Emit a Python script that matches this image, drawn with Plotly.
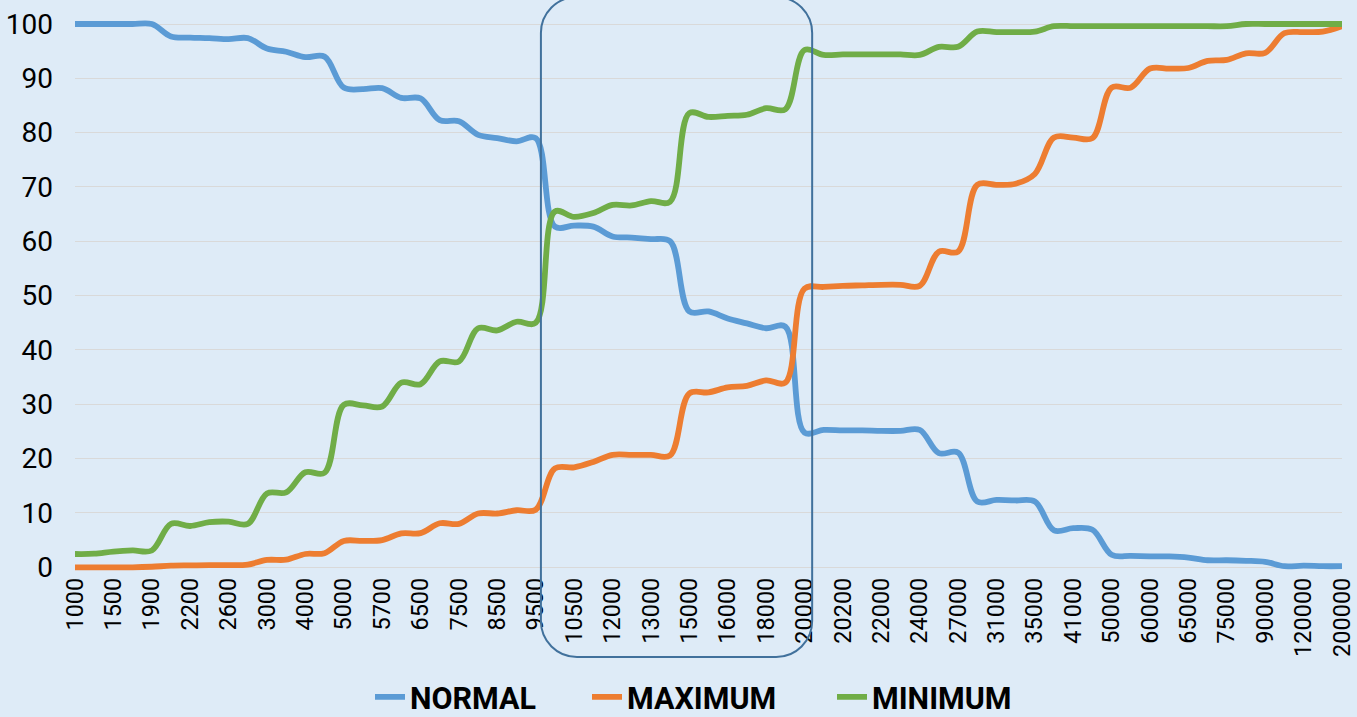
import plotly.graph_objects as go

# ---------------- data ----------------
tick_labels = ["1000", "1500", "1900", "2200", "2600", "3000", "4000", "5000", "5700",
               "6500", "7500", "8500", "9500", "10500", "12000", "13000", "15000",
               "16000", "18000", "20000", "20200", "22000", "24000", "27000", "31000",
               "35000", "41000", "50000", "60000", "65000", "75000", "90000", "120000",
               "200000"]

normal = [100, 100, 100, 100, 100, 97.7, 97.5, 97.4, 97.2, 97.4,
          95.5, 94.9, 93.9, 94.0, 88.3, 88.0, 88.2, 86.4, 86.3, 82.3,
          82.1, 79.6, 79.0, 78.4, 79.0, 62.7, 62.9, 62.7, 60.9, 60.7,
          60.4, 60.0, 47.1, 47.1, 45.8, 44.9, 44.0, 44.3, 24.8, 25.3,
          25.2, 25.2, 25.1, 25.1, 25.3, 21.0, 21.1, 12.1, 12.4, 12.3,
          12.1, 6.8, 7.2, 6.9, 2.3, 2.1, 2.0, 2.0, 1.8, 1.3,
          1.3, 1.2, 1.0, 0.2, 0.3, 0.2, 0.2]

maximum = [0, 0, 0, 0, 0.1, 0.3, 0.35, 0.4, 0.4, 0.5,
           1.35, 1.4, 2.45, 2.6, 4.85, 4.85, 5.0, 6.25, 6.3, 8.1,
           8.0, 9.9, 9.9, 10.5, 10.6, 18.2, 18.4, 19.4, 20.7, 20.7,
           20.7, 20.6, 32.0, 32.2, 33.1, 33.4, 34.4, 34.0, 51.3, 51.6,
           51.8, 51.9, 52.0, 52.0, 51.8, 58.1, 58.1, 70.4, 70.4, 70.6,
           72.4, 79.1, 79.1, 79.0, 88.3, 88.3, 91.8, 91.8, 91.9, 93.2,
           93.4, 94.6, 94.7, 98.3, 98.5, 98.6, 99.6]

minimum = [2.45, 2.5, 2.9, 3.1, 3.1, 8.0, 7.6, 8.3, 8.4, 8.0,
           13.6, 13.8, 17.5, 17.4, 29.9, 29.8, 29.6, 34.0, 33.7, 37.9,
           37.9, 44.0, 43.6, 45.2, 45.0, 65.5, 64.5, 65.2, 66.7, 66.6,
           67.4, 67.3, 83.6, 82.9, 83.1, 83.3, 84.5, 84.3, 95.2, 94.3,
           94.4, 94.4, 94.4, 94.4, 94.3, 95.8, 95.8, 98.6, 98.5, 98.5,
           98.6, 99.6, 99.6, 99.6, 99.6, 99.6, 99.6, 99.6, 99.6, 99.6,
           99.6, 100, 100, 100, 100, 100, 100]

series_names = ["NORMAL", "MAXIMUM", "MINIMUM"]
series_colors = ["#5B9BD5", "#ED7D31", "#70AD47"]
legend_widths = [172, 200, 180]

positions = list(range(len(normal)))
tick_positions = positions[::2]

# highlighted region (in category-position units)
box_x0, box_x1 = 24.27, 38.4

# ---------------- layout geometry ----------------
W, H = 1357, 717
ML, MR, MT, MB = 75, 15, 20, 145
PW, PH = W - ML - MR, H - MT - MB
X_RANGE = [0, len(normal) - 1]
Y_RANGE = [-0.865, 100.736]

BG = "#DEEBF7"

fig = go.Figure()
for name, vals, col, lw in zip(series_names, [normal, maximum, minimum],
                               series_colors, legend_widths):
    fig.add_trace(go.Scatter(
        x=positions, y=vals, name=name, mode="lines", legendwidth=lw,
        line=dict(color=col, width=5.8, shape="spline", smoothing=1.0),
        hoverinfo="skip"))


def px_to_paper_y(py):
    return (H - MB - py) / PH


def xpos_to_paper(xv):
    return (xv - X_RANGE[0]) / (X_RANGE[1] - X_RANGE[0])


# rounded rectangle (callout box)
r = 36
bx0, bx1 = xpos_to_paper(box_x0), xpos_to_paper(box_x1)
by1, by0 = px_to_paper_y(-3), px_to_paper_y(657)
rx, ry = r / PW, r / PH
k = 0.4477  # 1 - 0.5523
path = (f"M {bx0+rx},{by1} L {bx1-rx},{by1} "
        f"C {bx1-rx*k},{by1} {bx1},{by1-ry*k} {bx1},{by1-ry} "
        f"L {bx1},{by0+ry} "
        f"C {bx1},{by0+ry*k} {bx1-rx*k},{by0} {bx1-rx},{by0} "
        f"L {bx0+rx},{by0} "
        f"C {bx0+rx*k},{by0} {bx0},{by0+ry*k} {bx0},{by0+ry} "
        f"L {bx0},{by1-ry} "
        f"C {bx0},{by1-ry*k} {bx0+rx*k},{by1} {bx0+rx},{by1} Z")
fig.add_shape(type="path", path=path, xref="paper", yref="paper",
              line=dict(color="#41719C", width=2), fillcolor="rgba(0,0,0,0)",
              layer="above")

fig.update_layout(
    width=W, height=H, autosize=False,
    margin=dict(l=ML, r=MR, t=MT, b=MB, pad=0, autoexpand=False),
    paper_bgcolor=BG, plot_bgcolor=BG,
    showlegend=True,
    legend=dict(orientation="h", x=(370 - ML) / PW, xanchor="left", xref="paper",
                y=(H - 697) / H, yanchor="middle", yref="container",
                font=dict(family="Roboto", size=30.5, color="#000000", weight="bold"),
                bgcolor="rgba(0,0,0,0)", itemwidth=30, tracegroupgap=0),
    xaxis=dict(range=X_RANGE, tickmode="array", tickvals=tick_positions,
               ticktext=tick_labels, tickangle=-90, showgrid=False, zeroline=False,
               showline=False, ticks="", automargin=False,
               tickfont=dict(family="Roboto", size=23.5, color="#000000")),
    yaxis=dict(range=Y_RANGE, tickmode="array", tickvals=list(range(0, 101, 10)),
               showgrid=True, gridcolor="#D9D9D9", gridwidth=1.3, zeroline=False,
               showline=False, ticks="", ticklabelstandoff=21, automargin=False,
               tickfont=dict(family="Roboto", size=28, color="#000000")),
)

fig.write_html("out.html", config={"displayModeBar": False},
               post_script="document.body.style.margin='0';document.body.style.overflow='hidden';")
